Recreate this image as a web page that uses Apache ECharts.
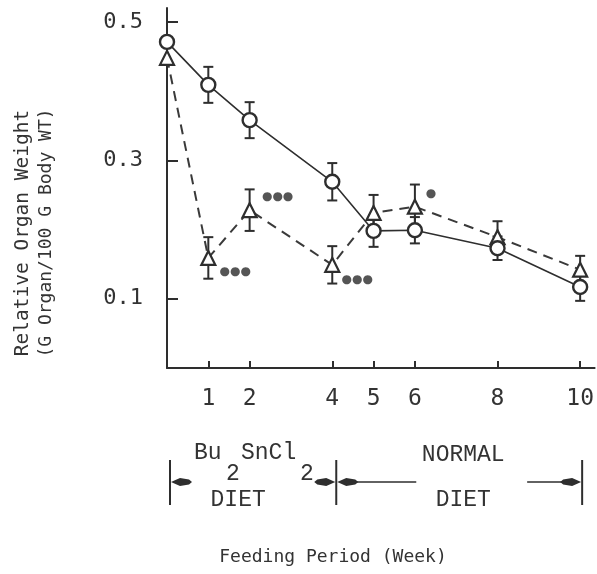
<!DOCTYPE html>
<html>
<head>
<meta charset="utf-8">
<script src="https://cdn.jsdelivr.net/npm/echarts@6/dist/echarts.min.js"></script>
<style>
  html, body { margin: 0; padding: 0; background: #fff; }
  #chart { width: 597px; height: 574px; }
</style>
</head>
<body>
<div id="chart"></div>
<script>
// Feeding period in weeks
var weeks = [0, 1, 2, 4, 5, 6, 8, 10];
var weekTicks = [1, 2, 4, 5, 6, 8, 10];
var yTicks = [0.1, 0.3, 0.5];

// Open circles, solid line
var circleMean = [0.471, 0.409, 0.358, 0.269, 0.198, 0.199, 0.173, 0.117];
var circleErr  = [0,     0.026, 0.026, 0.027, 0.023, 0.019, 0.017, 0.020];

// Open triangles, dashed line
var triMean = [0.448, 0.159, 0.228, 0.149, 0.224, 0.233, 0.189, 0.142];
var triErr  = [0,     0.030, 0.030, 0.027, 0.026, 0.032, 0.023, 0.020];
var triSig  = ['', '●●●', '●●●', '●●●', '', '●', '', ''];

var INK = '#2e2e2e';
var MONO = '"DejaVu Sans Mono", "Liberation Mono", monospace';
var TYPE = '"Liberation Mono", "DejaVu Sans Mono", monospace';

function pairs(xs, ys) {
  return xs.map(function (x, i) { return [x, ys[i]]; });
}
function errData(xs, ys, es) {
  var out = [];
  xs.forEach(function (x, i) {
    if (es[i] > 0) out.push([x, ys[i] - es[i], ys[i] + es[i]]);
  });
  return out;
}

// Vertical error bar with short horizontal caps
function renderErr(params, api) {
  var lo = api.coord([api.value(0), api.value(1)]);
  var hi = api.coord([api.value(0), api.value(2)]);
  var cap = 5;
  var st = { stroke: INK, lineWidth: 2 };
  return {
    type: 'group',
    children: [
      { type: 'line', shape: { x1: lo[0], y1: lo[1], x2: hi[0], y2: hi[1] }, style: st },
      { type: 'line', shape: { x1: lo[0] - cap, y1: lo[1], x2: lo[0] + cap, y2: lo[1] }, style: st },
      { type: 'line', shape: { x1: hi[0] - cap, y1: hi[1], x2: hi[0] + cap, y2: hi[1] }, style: st }
    ]
  };
}

// Significance markers beside the triangle points
var sigOffset = { 1: [27, 14], 2: [28, -13], 3: [25, 15], 5: [16, -13] };
var triPoints = pairs(weeks, triMean).map(function (p, i) {
  var item = { value: p };
  if (triSig[i]) {
    item.label = {
      show: true,
      formatter: triSig[i],
      position: 'inside',
      offset: sigOffset[i] || [20, 0],
      color: '#555',
      fontSize: 12,
      fontFamily: '"DejaVu Sans", sans-serif'
    };
  }
  return item;
});

var chart = echarts.init(document.getElementById('chart'), null, { renderer: 'canvas' });

var option = {
  backgroundColor: '#fff',
  animation: false,
  grid: { left: 167, top: 8, width: 428, height: 360 },
  xAxis: {
    type: 'value',
    min: 0,
    max: 10.35,
    splitLine: { show: false },
    axisLine: { lineStyle: { color: INK, width: 2 } },
    axisTick: {
      show: true, inside: true, length: 7,
      customValues: weekTicks,
      lineStyle: { color: INK, width: 2 }
    },
    axisLabel: {
      customValues: weekTicks,
      margin: 20,
      color: '#333',
      fontSize: 23,
      fontFamily: MONO
    }
  },
  yAxis: {
    type: 'value',
    min: 0,
    max: 0.52,
    splitLine: { show: false },
    axisLine: { lineStyle: { color: INK, width: 2 } },
    axisTick: {
      show: true, inside: true, length: 11,
      customValues: yTicks,
      lineStyle: { color: INK, width: 2 }
    },
    axisLabel: {
      customValues: yTicks,
      margin: 24,
      color: '#333',
      fontSize: 22,
      fontFamily: MONO,
      formatter: function (v) { return v.toFixed(1); }
    }
  },
  series: [
    {
      type: 'custom',
      name: 'circleErr',
      renderItem: renderErr,
      data: errData(weeks, circleMean, circleErr),
      z: 1
    },
    {
      type: 'custom',
      name: 'triErr',
      renderItem: renderErr,
      data: errData(weeks, triMean, triErr),
      z: 1
    },
    {
      type: 'line',
      name: 'circle',
      data: pairs(weeks, circleMean),
      symbol: 'circle',
      symbolSize: 14,
      showAllSymbol: true,
      lineStyle: { color: INK, width: 1.6 },
      itemStyle: { color: '#fff', borderColor: INK, borderWidth: 2.4 },
      z: 3
    },
    {
      type: 'line',
      name: 'triangle',
      data: triPoints,
      symbol: 'triangle',
      symbolSize: 14,
      showAllSymbol: true,
      lineStyle: { color: '#3a3a3a', width: 2, type: [10, 7] },
      itemStyle: { color: '#fff', borderColor: INK, borderWidth: 2.2 },
      z: 2
    }
  ]
};
chart.setOption(option);

// Diet period annotation below the axis, anchored to weeks 0, 4 and 10
function px(w) { return chart.convertToPixel({ xAxisIndex: 0 }, w); }
var x0 = px(0) + 3, x4 = px(4) + 4, x10 = px(10) + 2;
var yArr = 482;

function bar(x) {
  return { type: 'line', shape: { x1: x, y1: 460, x2: x, y2: 505 }, style: { stroke: INK, lineWidth: 2 } };
}
function head(tip, dir) {
  // spindle-shaped arrow head; dir = -1 points left, 1 points right
  var d = -dir;
  return {
    type: 'polygon',
    shape: { points: [
      [tip, yArr], [tip + d * 9, yArr - 4], [tip + d * 18, yArr - 2.5], [tip + d * 21, yArr],
      [tip + d * 18, yArr + 2.5], [tip + d * 9, yArr + 4]
    ] },
    style: { fill: INK }
  };
}
function seg(a, b) {
  return { type: 'line', shape: { x1: a, y1: yArr, x2: b, y2: yArr }, style: { stroke: INK, lineWidth: 1.6 } };
}
function txt(x, y, s, size, align, family) {
  return {
    type: 'text', x: x, y: y,
    style: { text: s, fill: '#333', font: size + 'px ' + (family || TYPE), textAlign: align || 'left', textVerticalAlign: 'middle' }
  };
}

var graphics = [
  bar(x0), head(x0 + 1, -1),
  head(x4 - 1, 1), bar(x4), head(x4 + 1, -1), seg(x4 + 20, x4 + 80),
  seg(x10 - 55, x10 - 18), head(x10 - 1, 1), bar(x10),
  // Bu2SnCl2 with subscripts
  txt(x0 + 24, 453, 'Bu', 23),
  txt(x0 + 56, 474, '2', 23),
  txt(x0 + 71, 453, 'SnCl', 23),
  txt(x0 + 130, 474, '2', 23),
  txt((x0 + x4) / 2 - 15, 500, 'DIET', 23, 'center'),
  txt(x4 + 127, 455, 'NORMAL', 23, 'center'),
  txt(x4 + 127, 500, 'DIET', 23, 'center'),
  // x-axis title
  txt(333, 557, 'Feeding Period (Week)', 18, 'center', MONO),
  // y-axis title (two lines, rotated)
  {
    type: 'text', x: 23, y: 233, rotation: Math.PI / 2,
    style: { text: 'Relative Organ Weight', fill: '#333', font: '19.5px ' + MONO, textAlign: 'center', textVerticalAlign: 'middle' }
  },
  {
    type: 'text', x: 46, y: 233, rotation: Math.PI / 2,
    style: { text: '(G Organ/100 G Body WT)', fill: '#333', font: '18px ' + MONO, textAlign: 'center', textVerticalAlign: 'middle' }
  }
];
chart.setOption({ graphic: graphics });
</script>
</body>
</html>
